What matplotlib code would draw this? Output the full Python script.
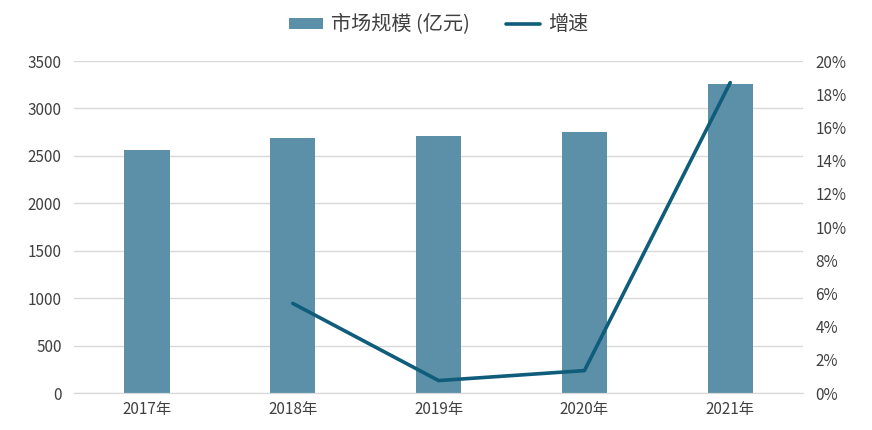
import matplotlib
matplotlib.use("Agg")
from matplotlib import pyplot as plt
from matplotlib.ticker import FuncFormatter

plt.rcParams['font.family'] = ['Noto Sans CJK SC', 'DejaVu Sans']

years = ['2017年', '2018年', '2019年', '2020年', '2021年']
market = [2562, 2688, 2709, 2751, 3257]
growth_years = ['2018年', '2019年', '2020年', '2021年']
growth = [5.4, 0.75, 1.35, 18.7]

bar_color = '#5b90a8'
line_color = '#0f5d7b'
grid_color = '#d9d9d9'
text_color = '#404040'

fig = plt.figure(figsize=(8.72, 4.3), dpi=100)
ax = fig.add_axes([0.085, 0.086, 0.836, 0.772])
ax2 = ax.twinx()

x = list(range(len(years)))
bars = ax.bar(x, market, width=0.31, color=bar_color, zorder=2, label='市场规模 (亿元)')
gx = [years.index(y) for y in growth_years]
ln, = ax2.plot(gx, growth, color=line_color, lw=2.6, solid_joinstyle='round',
               solid_capstyle='round', label='增速')

ax.set_xlim(-0.5, len(years) - 0.5)
ax.set_ylim(0, 3500)
ax.set_yticks(range(0, 3501, 500))
ax2.set_ylim(0, 20)
ax2.set_yticks(range(0, 21, 2))
ax2.yaxis.set_major_formatter(FuncFormatter(lambda v, p: f'{int(v)}%'))
ax.set_xticks(x)
ax.set_xticklabels(years)

ax.grid(axis='y', color=grid_color, lw=1, zorder=0)
for a in (ax, ax2):
    for s in ('top', 'left', 'right'):
        a.spines[s].set_visible(False)
    a.spines['bottom'].set_color(grid_color)
    a.tick_params(length=0, labelsize=11, colors=text_color)
ax.tick_params(axis='y', pad=9)
ax.tick_params(axis='x', pad=6)
ax2.tick_params(axis='y', pad=9)

fig.legend([bars, ln], ['市场规模 (亿元)', '增速'], loc='center',
           bbox_to_anchor=(0.503, 0.942), ncol=2, frameon=False,
           fontsize=14.5, handlelength=1.7, handleheight=0.45, handletextpad=0.4,
           columnspacing=1.8, labelcolor=text_color)

fig.savefig('out.png', dpi=100)
